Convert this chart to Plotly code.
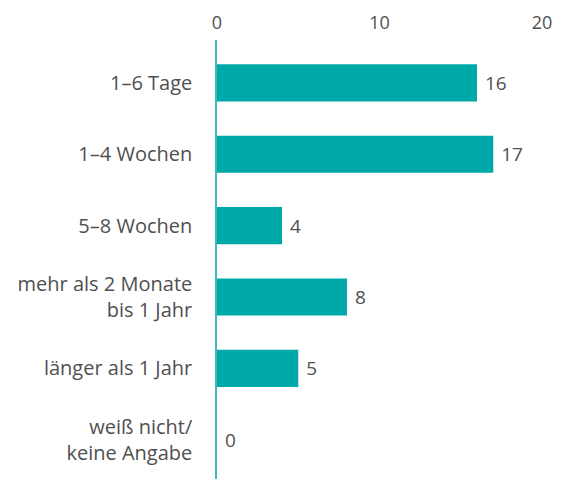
import plotly.graph_objects as go

categories = [
    "1–6 Tage",
    "1–4 Wochen",
    "5–8 Wochen",
    "mehr als 2 Monate<br>bis 1 Jahr",
    "länger als 1 Jahr",
    "weiß nicht/<br>keine Angabe",
]
values = [16, 17, 4, 8, 5, 0]
x_ticks = [0, 10, 20]

BAR = "#00a9a9"
TEXT = "#505050"
FONT = "Open Sans"

fig = go.Figure(
    go.Bar(
        x=values,
        y=categories,
        orientation="h",
        marker=dict(color=BAR, line=dict(width=0)),
        width=0.52,
        text=[f" {v}" for v in values],
        textposition="outside",
        constraintext="none",
        cliponaxis=False,
        textfont=dict(family=FONT, size=19, color=TEXT),
        hoverinfo="skip",
    )
)

# the page body adds an 8px offset, so the figure is sized to the visible area
fig.update_layout(
    width=554,
    height=471,
    margin=dict(l=209, r=20, t=32, b=0),
    paper_bgcolor="white",
    plot_bgcolor="white",
    showlegend=False,
    font=dict(family=FONT, size=20, color=TEXT),
    xaxis=dict(
        side="top",
        range=[0, 20],
        tickvals=x_ticks,
        ticktext=[str(t) for t in x_ticks],
        showgrid=False,
        zeroline=False,
        showline=False,
        ticks="",
        automargin=False,
        tickfont=dict(family=FONT, size=18, color=TEXT),
        ticklabelstandoff=6,
    ),
    yaxis=dict(
        categoryorder="array",
        categoryarray=categories,
        range=[5.55, -0.6],
        showgrid=False,
        zeroline=False,
        showline=True,
        linecolor="#3fb8b8",
        linewidth=1.5,
        ticks="",
        automargin=False,
        ticklabelstandoff=19,
        tickfont=dict(family=FONT, size=20, color=TEXT),
    ),
)

fig.write_html("out.html")
